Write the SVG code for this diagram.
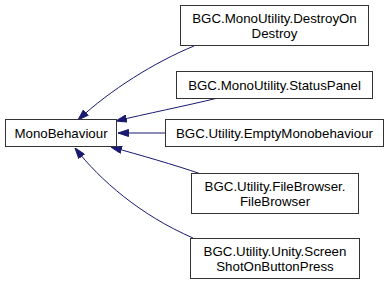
<svg xmlns="http://www.w3.org/2000/svg" width="389" height="285" viewBox="0 0 389 285">
  <style>
    .node rect { fill: #ffffff; stroke: #333333; stroke-width: 1; }
    .node text { font-family: "Liberation Sans", Arial, sans-serif; font-size: 13.3px; fill: #000000; text-anchor: middle; }
    .edge { fill: none; stroke: #191970; stroke-width: 1; marker-end: url(#arrow); }
  </style>
  <defs>
    <marker id="arrow" viewBox="0 0 11 8" refX="11" refY="4" markerWidth="11" markerHeight="8" markerUnits="userSpaceOnUse" orient="auto">
      <path d="M0.5,0.5 L11,4 L0.5,7.5 z" fill="#191970" stroke="#191970" stroke-width="1"/>
    </marker>
  </defs>
  <rect width="389" height="285" fill="#ffffff"/>

  <!-- inheritance connectors (derived to base) -->
  <g id="edges">
    <path class="edge" d="M194,46 C155,62 110,90 78,120"/>
    <path class="edge" d="M218,98 C185,106 145,114 116,121"/>
    <path class="edge" d="M165,133 L118,133"/>
    <path class="edge" d="M201,174 C175,165 140,155 111,147"/>
    <path class="edge" d="M193,238 C140,215 100,180 75,148"/>
  </g>

  <g id="MonoBehaviour" class="node">
    <rect x="5.5" y="119.5" width="111" height="27"/>
    <text x="61" y="137.5">MonoBehaviour</text>
  </g>
  <g id="DestroyOnDestroy" class="node">
    <rect x="180.5" y="5.5" width="188" height="40"/>
    <text x="274.5" y="22.5">BGC.MonoUtility.DestroyOn</text>
    <text x="274.5" y="37.5">Destroy</text>
  </g>
  <g id="StatusPanel" class="node">
    <rect x="176.5" y="71.5" width="196" height="27"/>
    <text x="274.5" y="89.5">BGC.MonoUtility.StatusPanel</text>
  </g>
  <g id="EmptyMonobehaviour" class="node">
    <rect x="165.5" y="119.5" width="218" height="27"/>
    <text x="274.5" y="137.5">BGC.Utility.EmptyMonobehaviour</text>
  </g>
  <g id="FileBrowser" class="node">
    <rect x="191.5" y="173.5" width="167" height="40"/>
    <text x="275" y="190.5">BGC.Utility.FileBrowser.</text>
    <text x="275" y="205.5">FileBrowser</text>
  </g>
  <g id="ScreenShotOnButtonPress" class="node">
    <rect x="190.5" y="238.5" width="169" height="40"/>
    <text x="275" y="255.5">BGC.Utility.Unity.Screen</text>
    <text x="275" y="270.5">ShotOnButtonPress</text>
  </g>
</svg>
